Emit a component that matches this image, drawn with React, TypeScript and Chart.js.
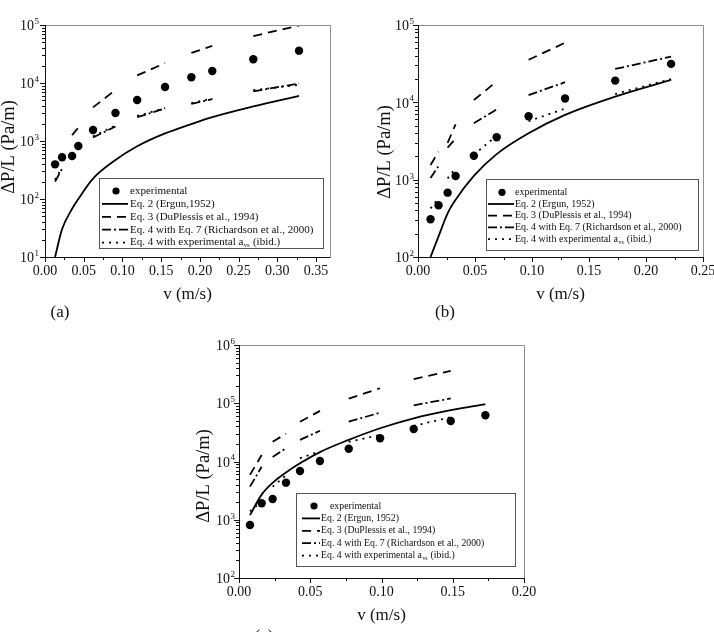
import React, { useEffect, useRef } from "react";
import { Chart, registerables } from "chart.js";

Chart.register(...registerables);

const PAGE_W = 714;
const PAGE_H = 632;
const SERIF = '"Liberation Serif", "Times New Roman", Times, serif';

// ---------- panel (a) ----------
const velocityA = [0.013, 0.022, 0.035, 0.043, 0.062, 0.091, 0.119, 0.155, 0.189, 0.216, 0.269, 0.328];
const experimentalA = [396, 524, 551, 820, 1550, 3040, 5090, 8530, 12600, 16100, 25600, 36100];
const ergunA = [10, 30, 68, 100, 225, 470, 810, 1350, 1960, 2580, 3950, 6000];
const duPlessisA = [null, null, 1260, 1700, 3800, 7600, 13500, 22000, 33000, 43500, 64500, 98000];
const richardsonA = [200, 330, null, null, 1150, 1780, 2570, 3630, 4380, 5250, 7200, 9800];
const measuredAvsA = [215, 350, null, null, 1200, 1850, 2700, 3700, 4500, 5400, 7500, 9300];
const xTicksA = [0, 0.05, 0.1, 0.15, 0.2, 0.25, 0.3, 0.35];
const yExponentsA = [1, 2, 3, 4, 5];

// ---------- panel (b) ----------
const velocityB = [0.011, 0.018, 0.026, 0.033, 0.049, 0.069, 0.097, 0.129, 0.173, 0.222];
const experimentalB = [308, 467, 679, 1117, 2040, 3540, 6600, 11200, 19100, 31400];
const ergunB = [100, 185, 367, 550, 1120, 2140, 3980, 6870, 11850, 19500];
const duPlessisB = [1550, 2300, 3000, 5200, 10700, 18600, 35500, 59000, 102000, 168000];
const richardsonB = [1050, 1500, 2600, 3400, 5370, 8100, 12400, 18200, 27000, 39000];
const measuredAvsB = [425, 575, 1040, 1420, 2100, 3700, 5700, 8300, 12800, 20000];
const xTicksB = [0, 0.05, 0.1, 0.15, 0.2, 0.25];
const yExponentsB = [2, 3, 4, 5];

// ---------- panel (c) ----------
const velocityC = [0.0077, 0.0159, 0.0236, 0.033, 0.0428, 0.0568, 0.077, 0.099, 0.1226, 0.1486, 0.1729];
const experimentalC = [815, 1920, 2270, 4330, 6870, 10200, 16600, 25000, 36100, 49500, 62100];
const ergunC = [1200, 2700, 4300, 6500, 9300, 14500, 23500, 37200, 55000, 76000, 97000];
const duPlessisC = [5900, 12900, 21800, 30000, 48000, 74000, 120000, 181000, 260000, 358000, null];
const richardsonC = [3700, 8100, 12000, 16900, 23500, 33700, 48200, 68900, 92000, 121000, null];
const measuredAvsC = [1400, 2050, 3700, 5800, 11400, 15000, 21800, 28500, 40900, 57700, null];
const xTicksC = [0, 0.05, 0.1, 0.15, 0.2];
const yExponentsC = [2, 3, 4, 5, 6];

// ---------- legend text ----------
const legendLabelsA = [
  "experimental",
  "Eq. 2 (Ergun,1952)",
  "Eq. 3 (DuPlessis et al., 1994)",
  "Eq. 4 with Eq. 7 (Richardson et al., 2000)",
  "Eq. 4 with experimental a",
];
const legendLabelsBC = [
  "experimental",
  "Eq. 2 (Ergun, 1952)",
  "Eq. 3 (DuPlessis et al., 1994)",
  "Eq. 4 with Eq. 7 (Richardson et al., 2000)",
  "Eq. 4 with experimental a",
];
const avsSubscript = "vs";
const avsTail = " (ibid.)";
const xAxisTitle = "v (m/s)";
const yAxisTitle = "\u0394P/L (Pa/m)";

// line styles
const DASHED = [9, 6];
const DASH_DOT = [9, 3, 2, 3];
const DOTTED = [2, 5];

type Series = (number | null)[];

type PanelSpec = {
  velocity: number[];
  experimental: number[];
  ergun: number[];
  duPlessis: Series;
  richardson: Series;
  measuredAvs: Series;
  xTicks: number[];
  yExponents: number[];
  labels: string[];
  tag: string;
  layout: {
    area: { left: number; top: number; right: number; bottom: number };
    xMax: number;
    yLabelGap: number;
    yTitle: { x: number; y: number };
    xTitleY: number;
    tagPos: { x: number; y: number };
    legend: {
      left: number; top: number; right: number; bottom: number;
      rowY: number; rowGap: number;
      lineX0: number; lineX1: number; markerX: number;
      textX: number; firstTextX: number; font: number;
    };
  };
};

const panels: PanelSpec[] = [
  {
    velocity: velocityA, experimental: experimentalA, ergun: ergunA,
    duPlessis: duPlessisA, richardson: richardsonA, measuredAvs: measuredAvsA,
    xTicks: xTicksA, yExponents: yExponentsA, labels: legendLabelsA, tag: "(a)",
    layout: {
      area: { left: 45, top: 25, right: 330, bottom: 257 },
      xMax: 0.368,
      yLabelGap: 6,
      yTitle: { x: 9, y: 147 },
      xTitleY: 295,
      tagPos: { x: 60, y: 313 },
      legend: {
        left: 99, top: 178, right: 323, bottom: 248,
        rowY: 191, rowGap: 12.9,
        lineX0: 102, lineX1: 128, markerX: 116,
        textX: 130, firstTextX: 130, font: 11,
      },
    },
  },
  {
    velocity: velocityB, experimental: experimentalB, ergun: ergunB,
    duPlessis: duPlessisB, richardson: richardsonB, measuredAvs: measuredAvsB,
    xTicks: xTicksB, yExponents: yExponentsB, labels: legendLabelsBC, tag: "(b)",
    layout: {
      area: { left: 418, top: 25, right: 703, bottom: 257 },
      xMax: 0.25,
      yLabelGap: 4,
      yTitle: { x: 385, y: 152 },
      xTitleY: 295,
      tagPos: { x: 445, y: 313 },
      legend: {
        left: 486, top: 179, right: 698, bottom: 250,
        rowY: 192.3, rowGap: 11.7,
        lineX0: 488, lineX1: 514, markerX: 502,
        textX: 515, firstTextX: 515, font: 10,
      },
    },
  },
  {
    velocity: velocityC, experimental: experimentalC, ergun: ergunC,
    duPlessis: duPlessisC, richardson: richardsonC, measuredAvs: measuredAvsC,
    xTicks: xTicksC, yExponents: yExponentsC, labels: legendLabelsBC, tag: "(c)",
    layout: {
      area: { left: 239, top: 345, right: 524, bottom: 578 },
      xMax: 0.2,
      yLabelGap: 4,
      yTitle: { x: 204, y: 476 },
      xTitleY: 616,
      tagPos: { x: 264, y: 637 },
      legend: {
        left: 296, top: 493, right: 515, bottom: 566,
        rowY: 506, rowGap: 12.4,
        lineX0: 302, lineX1: 320, markerX: 314,
        textX: 321, firstTextX: 330, font: 9.8,
      },
    },
  },
];

const toPoints = (v: number[], vals: Series) => vals.map((y, i) => ({ x: v[i], y }));

// model curves are evaluated in pairs of neighbouring velocities: hide the link between pairs
const pairedSegments = {
  borderColor: (ctx: any) => (ctx.p0DataIndex % 2 === 1 ? "rgba(0,0,0,0)" : "#000"),
};

function drawYLabel(ctx: CanvasRenderingContext2D, exp: number, rightX: number, y: number) {
  ctx.font = `14px ${SERIF}`;
  const wBase = ctx.measureText("10").width;
  ctx.font = `9px ${SERIF}`;
  const wExp = ctx.measureText(String(exp)).width;
  const start = rightX - wBase - wExp - 0.5;
  ctx.textAlign = "left";
  ctx.textBaseline = "middle";
  ctx.font = `14px ${SERIF}`;
  ctx.fillText("10", start, y + 1.5);
  ctx.font = `9px ${SERIF}`;
  ctx.fillText(String(exp), start + wBase + 0.5, y - 3.5);
}

function makeFramePlugin(spec: PanelSpec) {
  return {
    id: "figureFrame",
    afterDatasetsDraw(chart: Chart) {
      const { ctx, chartArea: area } = chart;
      const xs = chart.scales.x;
      const ys = chart.scales.y;
      const L = spec.layout;
      ctx.save();

      // frame: light on top/right, black axes on left/bottom
      ctx.lineWidth = 1;
      ctx.setLineDash([]);
      ctx.strokeStyle = "#8f8f8f";
      ctx.beginPath();
      ctx.moveTo(area.left, area.top + 0.5);
      ctx.lineTo(area.right + 0.5, area.top + 0.5);
      ctx.lineTo(area.right + 0.5, area.bottom);
      ctx.stroke();
      ctx.strokeStyle = "#111";
      ctx.beginPath();
      ctx.moveTo(area.left + 0.5, area.top);
      ctx.lineTo(area.left + 0.5, area.bottom + 0.5);
      ctx.lineTo(area.right + 0.5, area.bottom + 0.5);
      ctx.stroke();

      // tick marks
      ctx.beginPath();
      const minorStep = (spec.xTicks[1] - spec.xTicks[0]) / 2;
      for (let k = 0; k * minorStep <= L.xMax + 1e-9; k++) {
        const px = Math.round(xs.getPixelForValue(k * minorStep)) + 0.5;
        ctx.moveTo(px, area.bottom);
        ctx.lineTo(px, area.bottom + (k % 2 === 0 ? 5 : 3));
      }
      const exps = spec.yExponents;
      const topExp = exps[exps.length - 1];
      for (const e of exps) {
        for (let m = 1; m <= 9; m++) {
          if (e === topExp && m > 1) break;
          const py = Math.round(ys.getPixelForValue(m * Math.pow(10, e))) + 0.5;
          ctx.moveTo(area.left, py);
          ctx.lineTo(area.left - (m === 1 ? 5 : 3), py);
        }
      }
      ctx.stroke();

      // tick labels
      ctx.fillStyle = "#111";
      ctx.font = `14px ${SERIF}`;
      ctx.textAlign = "center";
      ctx.textBaseline = "middle";
      for (const t of spec.xTicks) {
        ctx.fillText(t.toFixed(2), xs.getPixelForValue(t), area.bottom + 14);
      }
      for (const e of exps) {
        drawYLabel(ctx, e, area.left - L.yLabelGap, ys.getPixelForValue(Math.pow(10, e)));
      }

      // axis titles
      ctx.font = `17px ${SERIF}`;
      ctx.textAlign = "center";
      ctx.textBaseline = "middle";
      ctx.fillText(xAxisTitle, (area.left + area.right) / 2, L.xTitleY);
      ctx.save();
      ctx.translate(L.yTitle.x, L.yTitle.y);
      ctx.rotate(-Math.PI / 2);
      ctx.font = `18.5px ${SERIF}`;
      ctx.fillText(yAxisTitle, 0, 0);
      ctx.restore();

      // panel tag
      ctx.font = `17px ${SERIF}`;
      ctx.fillText(spec.tag, L.tagPos.x, L.tagPos.y);

      // legend
      const lg = L.legend;
      ctx.fillStyle = "#fff";
      ctx.fillRect(lg.left, lg.top, lg.right - lg.left, lg.bottom - lg.top);
      ctx.strokeStyle = "#555";
      ctx.lineWidth = 1;
      ctx.strokeRect(lg.left + 0.5, lg.top + 0.5, lg.right - lg.left, lg.bottom - lg.top);

      const rowYs = spec.labels.map((_, i) => lg.rowY + i * lg.rowGap);
      ctx.fillStyle = "#000";
      ctx.beginPath();
      ctx.arc(lg.markerX, rowYs[0], 3.6, 0, Math.PI * 2);
      ctx.fill();

      const samples: [number, number[], number][] = [
        [1, [], 1.8],
        [2, DASHED, 1.8],
        [3, DASH_DOT, 1.8],
        [4, DOTTED, 1.8],
      ];
      ctx.strokeStyle = "#000";
      for (const [row, dash, w] of samples) {
        ctx.lineWidth = w;
        ctx.setLineDash(dash);
        ctx.beginPath();
        ctx.moveTo(lg.lineX0, rowYs[row]);
        ctx.lineTo(lg.lineX1, rowYs[row]);
        ctx.stroke();
      }
      ctx.setLineDash([]);

      ctx.textAlign = "left";
      ctx.textBaseline = "middle";
      ctx.fillStyle = "#111";
      spec.labels.forEach((text, i) => {
        const x = i === 0 ? lg.firstTextX : lg.textX;
        ctx.font = `${lg.font}px ${SERIF}`;
        ctx.fillText(text, x, rowYs[i]);
        if (i === spec.labels.length - 1) {
          const w1 = ctx.measureText(text).width;
          ctx.font = `${lg.font * 0.6}px ${SERIF}`;
          ctx.fillText(avsSubscript, x + w1 + 0.5, rowYs[i] + 3);
          const w2 = ctx.measureText(avsSubscript).width;
          ctx.font = `${lg.font}px ${SERIF}`;
          ctx.fillText(avsTail, x + w1 + w2 + 1, rowYs[i]);
        }
      });

      ctx.restore();
    },
  };
}

function buildConfig(spec: PanelSpec): any {
  const v = spec.velocity;
  const { area, xMax } = spec.layout;
  const yMin = Math.pow(10, spec.yExponents[0]);
  const yMax = Math.pow(10, spec.yExponents[spec.yExponents.length - 1]);
  return {
    type: "line",
    data: {
      datasets: [
        {
          label: "Eq. 4 with experimental a_vs",
          data: toPoints(v, spec.measuredAvs),
          borderColor: "#000",
          borderWidth: 1.8,
          borderDash: DOTTED,
          pointRadius: 0,
          spanGaps: false,
          segment: pairedSegments,
        },
        {
          label: "Eq. 4 with Eq. 7",
          data: toPoints(v, spec.richardson),
          borderColor: "#000",
          borderWidth: 1.8,
          borderDash: DASH_DOT,
          pointRadius: 0,
          spanGaps: false,
          segment: pairedSegments,
        },
        {
          label: "Eq. 3",
          data: toPoints(v, spec.duPlessis),
          borderColor: "#000",
          borderWidth: 1.8,
          borderDash: DASHED,
          pointRadius: 0,
          spanGaps: false,
          segment: pairedSegments,
        },
        {
          label: "Eq. 2",
          data: toPoints(v, spec.ergun),
          borderColor: "#000",
          borderWidth: 1.8,
          pointRadius: 0,
          cubicInterpolationMode: "monotone",
        },
        {
          label: "experimental",
          data: toPoints(v, spec.experimental),
          showLine: false,
          pointRadius: 4.2,
          pointBackgroundColor: "#000",
          pointBorderColor: "#000",
          pointBorderWidth: 0,
        },
      ],
    },
    options: {
      animation: false,
      responsive: false,
      maintainAspectRatio: false,
      devicePixelRatio: 1,
      events: [],
      layout: {
        autoPadding: false,
        padding: {
          left: area.left,
          top: area.top,
          right: PAGE_W - area.right,
          bottom: PAGE_H - area.bottom,
        },
      },
      plugins: { legend: { display: false }, tooltip: { enabled: false }, title: { display: false } },
      scales: {
        x: { type: "linear", min: 0, max: xMax, display: false },
        y: { type: "logarithmic", min: yMin, max: yMax, display: false },
      },
    },
    plugins: [makeFramePlugin(spec)],
  };
}

function PanelChart({ spec }: { spec: PanelSpec }) {
  const ref = useRef<HTMLCanvasElement>(null);
  useEffect(() => {
    if (!ref.current) return;
    const chart = new Chart(ref.current, buildConfig(spec));
    return () => chart.destroy();
  }, [spec]);
  return (
    <canvas
      ref={ref}
      width={PAGE_W}
      height={PAGE_H}
      style={{ position: "absolute", left: 0, top: 0, width: PAGE_W, height: PAGE_H }}
    />
  );
}

export default function App() {
  return (
    <div
      style={{
        position: "fixed",
        left: 0,
        top: 0,
        width: PAGE_W,
        height: PAGE_H,
        background: "#fff",
        overflow: "hidden",
      }}
    >
      {panels.map((p) => (
        <PanelChart key={p.tag} spec={p} />
      ))}
    </div>
  );
}
